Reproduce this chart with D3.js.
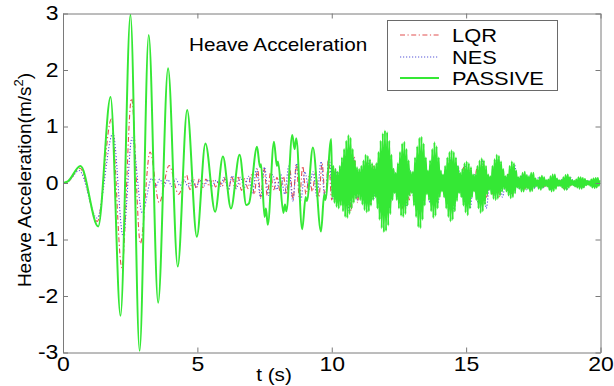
<!DOCTYPE html>
<html>
<head>
<meta charset="utf-8">
<script src="https://cdn.jsdelivr.net/npm/d3@7"></script>
<style>
  body { margin: 0; background: #fff; }
  text { font-family: "Liberation Sans", Arial, sans-serif; fill: #000; }
</style>
</head>
<body>
<svg id="chart" width="614" height="386"></svg>
<script>
// Axis ticks
const xTicks = [0, 5, 10, 15, 20];
const yTicks = [-3, -2, -1, 0, 1, 2, 3];
const seriesNames = ["LQR", "NES", "PASSIVE"];

// PASSIVE: successive swing extremes [t (s), acceleration (m/s^2)]
const passiveSwings = [
  [0, 0], [0.18, 0.03], [0.65, 0.3], [1.31, -0.77], [1.77, 1.52], [2.14, -2.35],
  [2.51, 2.98], [2.85, -2.97], [3.19, 2.62], [3.54, -2.12], [3.91, 2.03], [4.27, -1.48],
  [4.62, 1.29], [4.98, -0.95], [5.3, 0.7], [5.66, -0.51], [5.95, 0.47], [6.25, -0.45],
  [6.57, 0.5], [6.82, -0.39], [6.92, -0.36], [7.22, 0.64], [7.33, 0.28], [7.37, 0.33],
  [7.5, -0.6], [7.55, -0.45], [7.62, -0.74], [7.85, 0.73], [7.96, 0.3], [8.0, 0.38],
  [8.2, -0.53], [8.26, -0.38], [8.31, -0.5], [8.53, 0.85], [8.62, 0.6], [8.68, 0.79],
  [8.9, -0.82], [9.03, -0.25], [9.07, -0.32], [9.3, 0.63], [9.6, -0.86], [9.72, -0.2],
  [9.76, -0.3], [9.98, 0.78]
];
// PASSIVE: fast oscillation after 10 s, one value per half cycle
const passiveTailStart = 10.02, passiveTailStep = 0.04;
const passiveTail = [
  -0.25, 0.3, -0.35, 0.25, -0.42, 0.2, -0.45, 0.3, -0.4, 0.45,
  -0.5, 0.6, -0.6, 0.75, -0.62, 0.85, -0.55, 0.8, -0.45, 0.6,
  -0.35, 0.4, -0.28, 0.28, -0.25, 0.25, -0.3, 0.3, -0.38, 0.4,
  -0.48, 0.5, -0.52, 0.48, -0.5, 0.42, -0.4, 0.35, -0.3, 0.3,
  -0.25, 0.35, -0.45, 0.55, -0.65, 0.75, -0.8, 0.88, -0.87, 0.93,
  -0.85, 0.9, -0.75, 0.75, -0.55, 0.5, -0.3, 0.25, -0.18, 0.18,
  -0.3, 0.35, -0.45, 0.55, -0.58, 0.7, -0.6, 0.73, -0.55, 0.6,
  -0.4, 0.4, -0.22, 0.2, -0.18, 0.2, -0.4, 0.45, -0.6, 0.65,
  -0.78, 0.8, -0.8, 0.82, -0.65, 0.7, -0.4, 0.45, -0.2, 0.22,
  -0.3, 0.4, -0.5, 0.6, -0.62, 0.72, -0.58, 0.65, -0.45, 0.45,
  -0.25, 0.22, -0.15, 0.15, -0.25, 0.3, -0.45, 0.45, -0.6, 0.55,
  -0.68, 0.58, -0.65, 0.55, -0.5, 0.45, -0.32, 0.3, -0.18, 0.18,
  -0.25, 0.25, -0.4, 0.35, -0.52, 0.38, -0.57, 0.35, -0.45, 0.28,
  -0.25, 0.15, -0.15, 0.15, -0.3, 0.3, -0.45, 0.4, -0.53, 0.44,
  -0.5, 0.4, -0.38, 0.3, -0.2, 0.15, -0.12, 0.12, -0.2, 0.3,
  -0.28, 0.42, -0.3, 0.5, -0.28, 0.48, -0.22, 0.38, -0.15, 0.25,
  -0.1, 0.12, -0.15, 0.15, -0.22, 0.3, -0.27, 0.38, -0.25, 0.35,
  -0.18, 0.22, -0.08, 0.1, -0.1, 0.12, -0.15, 0.18, -0.15, 0.2,
  -0.1, 0.14, -0.1, 0.12, -0.15, 0.18, -0.14, 0.18, -0.08, 0.08,
  -0.05, 0.05, -0.1, 0.1, -0.12, 0.13, -0.08, 0.1, -0.05, 0.05,
  -0.06, 0.06, -0.12, 0.12, -0.15, 0.15, -0.14, 0.15, -0.1, 0.08,
  -0.05, 0.05, -0.05, 0.05, -0.08, 0.1, -0.12, 0.14, -0.12, 0.15,
  -0.08, 0.1, -0.04, 0.05, -0.04, 0.04, -0.06, 0.06, -0.08, 0.1,
  -0.1, 0.1, -0.1, 0.09, -0.08, 0.07, -0.04, 0.04, -0.03, 0.03,
  -0.05, 0.06, -0.08, 0.08, -0.09, 0.09, -0.08, 0.09, -0.05, 0.05
];

// LQR
const lqrSwings = [
  [0, 0], [0.18, 0.02], [0.63, 0.26], [1.28, -0.68], [1.8, 1.13], [2.19, -1.5],
  [2.55, 1.5], [2.88, -1.07], [3.24, 0.55], [3.58, -0.35], [3.95, 0.31], [4.3, -0.2]
];
const lqrTailStart = 4.6, lqrTailStep = 0.12;
const lqrTail = [
  0.14, -0.12, 0.1, -0.1, 0.08, -0.08, 0.07, -0.06, 0.06, -0.07, 0.05, -0.06,
  0.1, -0.12, 0.12, -0.1, 0.1, -0.13, 0.08, -0.1,
  0.15, -0.2, 0.25, -0.25, 0.27, -0.22, 0.18, -0.12,
  0.1, -0.15, 0.12, -0.2, 0.25, -0.3, 0.33, -0.28, 0.3, -0.2,
  0.12, -0.15, 0.2, -0.25, 0.35, -0.3, 0.42, -0.3, 0.25,
  -0.18, 0.2, -0.35, 0.45, -0.5, 0.46, -0.35,
  0.2, -0.3, 0.38, -0.4, 0.3, -0.25,
  0.4, -0.5, 0.5, -0.45, 0.25,
  -0.15, 0.3, -0.45, 0.42, -0.3,
  0.15, -0.3, 0.45, -0.45, 0.3,
  -0.15, 0.35, -0.4, 0.3,
  -0.12, 0.15, -0.35, 0.4, -0.4, 0.25,
  -0.12, 0.3, -0.35, 0.25,
  -0.1, 0.25, -0.35, 0.35, -0.25,
  0.1, -0.2, 0.3, -0.25, 0.2,
  -0.08, 0.18, -0.22, 0.18,
  -0.06, 0.12, -0.12, 0.1, -0.12, 0.08,
  -0.05, 0.1, -0.06, 0.05, -0.1, 0.12, -0.06,
  0.04, -0.1, 0.1, -0.05, 0.04, -0.06, 0.08, -0.08, 0.04,
  -0.03, 0.06, -0.07, 0.05
];

// NES
const nesSwings = [
  [0, 0], [0.18, 0.02], [0.6, 0.22], [1.27, -0.62], [1.86, 0.88], [2.24, -0.95],
  [2.57, 0.8], [2.95, -0.53]
];
const nesTailStart = 3.3, nesTailStep = 0.15;
const nesTail = [
  0.08, -0.06, 0.07, -0.05, 0.06, -0.06, 0.07, -0.05, 0.06, -0.06, 0.05, -0.07, 0.05, -0.05, 0.06, -0.05, 0.05, -0.06,
  0.1, -0.12, 0.13, -0.1, 0.1, -0.08, 0.12,
  -0.18, 0.25, -0.27, 0.28, -0.22, 0.15, -0.12,
  0.15, -0.2, 0.3, -0.32, 0.35, -0.3, 0.2, -0.12,
  0.2, -0.25, 0.38, -0.3, 0.44, -0.28, 0.2, -0.25,
  0.4, -0.5, 0.46, -0.3, 0.2, -0.35, 0.4, -0.3,
  0.35, -0.55, 0.55, -0.45, 0.2, -0.2, 0.45, -0.45, 0.25,
  -0.25, 0.5, -0.5, 0.3, -0.35, 0.45, -0.35,
  0.15, -0.3, 0.45, -0.5, 0.3, -0.25, 0.33, -0.45,
  0.15, -0.35, 0.4, -0.45, 0.12, -0.22, 0.42, -0.25,
  0.1, -0.2, 0.32, -0.1, 0.15, -0.12, 0.15, -0.1,
  0.1, -0.1, 0.05, -0.12, 0.12, -0.06, 0.08, -0.12,
  0.1, -0.05, 0.08, -0.09, 0.05, -0.05, 0.08, -0.06
];

function buildSeries(swings, tail, start, step) {
  return swings.concat(tail.map((v, i) => [start + i * step, v]));
}

const series = [
  { name: seriesNames[0], pts: buildSeries(lqrSwings, lqrTail, lqrTailStart, lqrTailStep),
    color: "#e25050", width: 1.1, dash: "5,2.5,1.2,2.5" },
  { name: seriesNames[1], pts: buildSeries(nesSwings, nesTail, nesTailStart, nesTailStep),
    color: "#5656d8", width: 1.1, dash: "1.2,1.8" },
  { name: seriesNames[2], pts: buildSeries(passiveSwings, passiveTail, passiveTailStart, passiveTailStep),
    color: "#35e835", width: 2, dash: null }
];

const svg = d3.select("#chart");
const plotLeft = 63, plotRight = 600.5, plotTop = 13.5, plotBottom = 352.5;
const x = d3.scaleLinear().domain([0, 20]).range([plotLeft, plotRight]);
const y = d3.scaleLinear().domain([-3, 3]).range([plotBottom, plotTop]);
const sx = 1.15; // horizontal letter stretch
const fmt = d => String(d);

svg.append("rect").attr("width", 614).attr("height", 386).attr("fill", "#fff");

svg.append("defs").append("clipPath").attr("id", "plotClip")
  .append("rect").attr("x", plotLeft).attr("y", plotTop)
  .attr("width", plotRight - plotLeft).attr("height", plotBottom - plotTop);

// data lines
const line = d3.line().x(d => x(d[0])).y(d => y(d[1])).curve(d3.curveMonotoneX);
const plot = svg.append("g").attr("clip-path", "url(#plotClip)");
series.forEach(s => {
  plot.append("path")
    .attr("d", line(s.pts))
    .attr("fill", "none")
    .attr("stroke", s.color)
    .attr("stroke-width", s.width)
    .attr("stroke-dasharray", s.dash)
    .attr("stroke-linejoin", "round");
});

// axes: ticks point inward on all four sides
const axisColor = "#7a7a7a";
function styleAxis(g) {
  g.selectAll("path.domain").attr("stroke", axisColor).attr("stroke-width", 1);
  g.selectAll(".tick line").attr("stroke", axisColor);
}
const gx = svg.append("g").attr("transform", `translate(0,${plotBottom})`)
  .call(d3.axisBottom(x).tickValues(xTicks).tickFormat(fmt).tickSize(-5).tickSizeOuter(0).tickPadding(4));
gx.call(styleAxis);
gx.selectAll(".tick text").attr("font-size", 20).attr("fill", "#000")
  .attr("font-family", "Liberation Sans, Arial, sans-serif").attr("transform", `scale(${sx},1)`);

const gxt = svg.append("g").attr("transform", `translate(0,${plotTop})`)
  .call(d3.axisTop(x).tickValues(xTicks).tickSize(-5).tickSizeOuter(0).tickFormat(""));
gxt.call(styleAxis);

const gy = svg.append("g").attr("transform", `translate(${plotLeft},0)`)
  .call(d3.axisLeft(y).tickValues(yTicks).tickFormat(fmt).tickSize(-5).tickSizeOuter(0).tickPadding(4));
gy.call(styleAxis);
gy.selectAll(".tick text").attr("font-size", 20).attr("fill", "#000")
  .attr("font-family", "Liberation Sans, Arial, sans-serif").attr("transform", `scale(${sx},1)`);

const gyr = svg.append("g").attr("transform", `translate(${plotRight},0)`)
  .call(d3.axisRight(y).tickValues(yTicks).tickSize(-5).tickSizeOuter(0).tickFormat(""));
gyr.call(styleAxis);

// axis titles
svg.append("text")
  .attr("transform", `translate(274,381) scale(${sx},1)`)
  .attr("text-anchor", "middle").attr("font-size", 18).text("t (s)");

const yl = svg.append("text")
  .attr("transform", "translate(31,180) rotate(-90)")
  .attr("text-anchor", "middle").attr("font-size", 19);
yl.append("tspan").text("Heave Acceleration(m/s");
yl.append("tspan").attr("font-size", 13).attr("dy", -8).text("2");
yl.append("tspan").attr("dy", 8).text(")");

// in-plot title
svg.append("text")
  .attr("transform", `translate(189,51) scale(${sx},1)`)
  .attr("font-size", 18).text("Heave Acceleration");

// legend
const lg = svg.append("g");
lg.append("rect").attr("x", 387.5).attr("y", 20.5).attr("width", 170).attr("height", 70)
  .attr("fill", "#fff").attr("stroke", "#6a6a6a").attr("stroke-width", 1);
const rowY = [35, 57, 78];
series.forEach((s, i) => {
  lg.append("line")
    .attr("x1", 400).attr("x2", 439).attr("y1", rowY[i]).attr("y2", rowY[i])
    .attr("stroke", s.color).attr("stroke-width", s.width)
    .attr("stroke-dasharray", s.dash);
  lg.append("text")
    .attr("transform", `translate(452,${rowY[i] + 7}) scale(${sx},1)`)
    .attr("font-size", 19).text(s.name);
});
</script>
</body>
</html>
